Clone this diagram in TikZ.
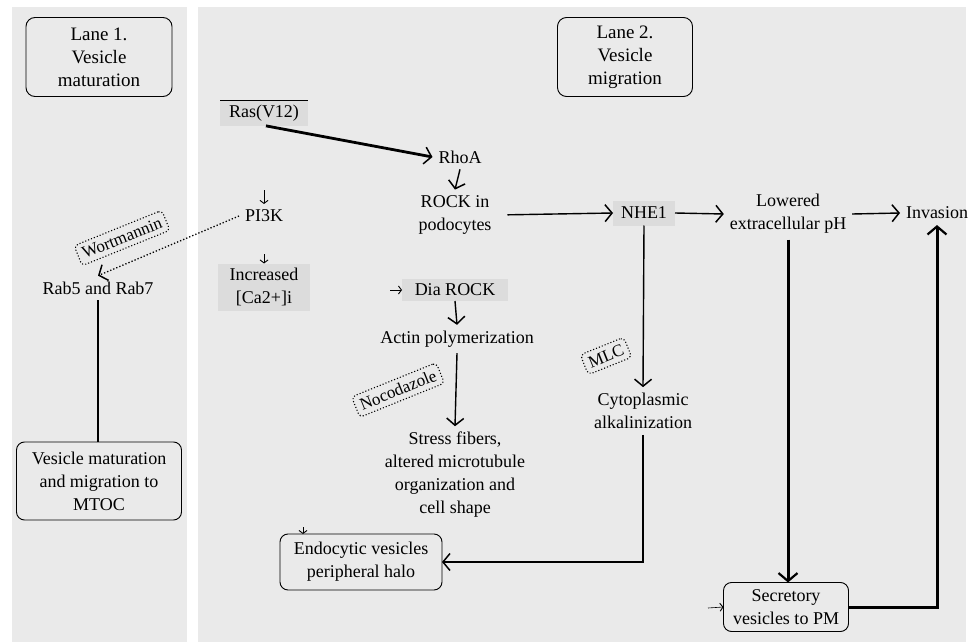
\documentclass[tikz,border=0pt]{standalone}
\usepackage{fontspec}
\setmainfont{Liberation Serif}
\usetikzlibrary{arrows.meta}
\definecolor{lanegray}{HTML}{EAEAEA}
\definecolor{boxgray}{HTML}{DCDCDC}
\begin{document}
\begin{tikzpicture}[x=1pt,y=-1pt,
  txt/.style={font=\fontsize{18}{23}\selectfont, align=center, inner sep=1pt, outer sep=5pt},
  hdr/.style={txt, font=\fontsize{19}{23}\selectfont, draw, line width=0.9pt, rounded corners=9pt,
              minimum width=146pt, minimum height=79pt, outer sep=0pt},
  shadebox/.style={txt, fill=boxgray, outer sep=0pt},
  roundbox/.style={txt, draw, line width=0.9pt, rounded corners=8pt, outer sep=0pt},
  inhib/.style={txt, font=\fontsize{17}{20}\selectfont, draw, dotted, line width=1.1pt,
                rounded corners=4pt, rotate=22, inner sep=5pt, outer sep=0pt},
  tip/.style={-{Straight Barb[length=7pt,width=17pt,line width=1.5pt]}},
  arr/.style={tip, line width=1.4pt},
  fatarr/.style={-{Straight Barb[length=8pt,width=19pt,line width=2.2pt]}, line width=3pt},
  stub/.style={-{Straight Barb[length=3pt,width=8pt,line width=0.9pt]}, line width=0.6pt},
]
\useasboundingbox (0,0) rectangle (970,642);
\fill[white] (0,0) rectangle (970,642);

% swim lanes
\fill[lanegray] (12,7) rectangle (187,642);
\fill[lanegray] (198,7) rectangle (966,642);

% lane headers
\node[hdr] (lane1) at (99,57) {Lane 1.\\Vesicle\\maturation};
\node[hdr, minimum width=135pt] (lane2) at (625,57) {Lane 2.\\Vesicle\\migration};

% lane 2 nodes
\node[shadebox, minimum width=88pt, minimum height=25pt] (ras) at (264,113) {Ras(V12)};
\draw[line width=1.6pt] (ras.north west) -- (ras.north east);
\node[txt] (rhoa) at (460,157) {RhoA};
\node[txt] (rock) at (455,215) {ROCK in\\podocytes};
\node[shadebox, minimum width=62pt, minimum height=25pt] (nhe) at (644,213) {NHE1};
\node[txt] (lowph) at (788,214) {Lowered\\extracellular pH};
\node[txt] (inv) at (937,213) {Invasion};
\node[txt] (pi3k) at (264,216) {PI3K};
\node[shadebox, minimum width=92pt, minimum height=47pt] (incr) at (264,287) {Increased\\{[Ca2+]i}};
\node[shadebox, minimum width=106pt, minimum height=22pt] (dia) at (455,290) {Dia ROCK};
\node[txt] (actin) at (457,339) {Actin polymerization};
\node[txt] (stress) at (455,475) {Stress fibers,\\altered microtubule\\organization and\\cell shape};
\node[txt] (cyto) at (643,411) {Cytoplasmic\\alkalinization};
\node[roundbox, minimum width=162pt, minimum height=56pt] (endo) at (361,562) {Endocytic vesicles\\peripheral halo};
\node[roundbox, minimum width=125pt, minimum height=49pt] (secr) at (786,607) {Secretory\\vesicles to PM};

% lane 1 nodes
\node[txt] (rab) at (98,288) {Rab5 and Rab7};
\node[roundbox, minimum width=165pt, minimum height=78pt] (vmat) at (99,481) {Vesicle maturation\\and migration to\\MTOC};

% inhibitor labels
\node[inhib] (wort) at (122,238) {Wortmannin};
\node[inhib] (noco) at (398,390) {Nocodazole};
\node[inhib] (mlc) at (606,356) {MLC};

% signalling connectors
\draw[tip, line width=2.8pt, shorten <=2pt] (ras.south) -- (rhoa.west);
\draw[arr] (rhoa.south) -- (rock.north);
\draw[arr, shorten <=10pt] (rock.east) -- (nhe.west);
\draw[arr] (nhe.east) -- (lowph.west);
\draw[arr] (lowph.east) -- (inv.west);
\draw[arr] (nhe.south) -- (cyto.north);
\draw[arr] (cyto.south) |- (endo.east);
\draw[fatarr] (lowph.south) -- (lowph.south |- secr.north);
\draw[fatarr] (secr.east) -| (inv.south);
\draw[arr] (dia.south) -- (actin.north);
\draw[arr] (actin.south) -- (stress.north);
\draw[line width=1.3pt] (rab.south) -- (rab.south |- vmat.north);
\draw[tip, dotted, line width=1.3pt] (pi3k.west) -- (rab.north);

% short stubs ending at their targets
\coordinate (s1) at (264,190);
\coordinate (s2) at (264,254);
\coordinate (s3) at (390,290);
\coordinate (s4) at (303,527);
\coordinate (s5) at (708,608);
\draw[stub] (s1) -- (pi3k.north);
\draw[stub] (s2) -- (incr.north);
\draw[stub] (s3) -- (dia.west);
\draw[stub] (s4) -- (s4 |- endo.north);
\draw[stub] (s5) -- (secr.west);
\end{tikzpicture}
\end{document}
